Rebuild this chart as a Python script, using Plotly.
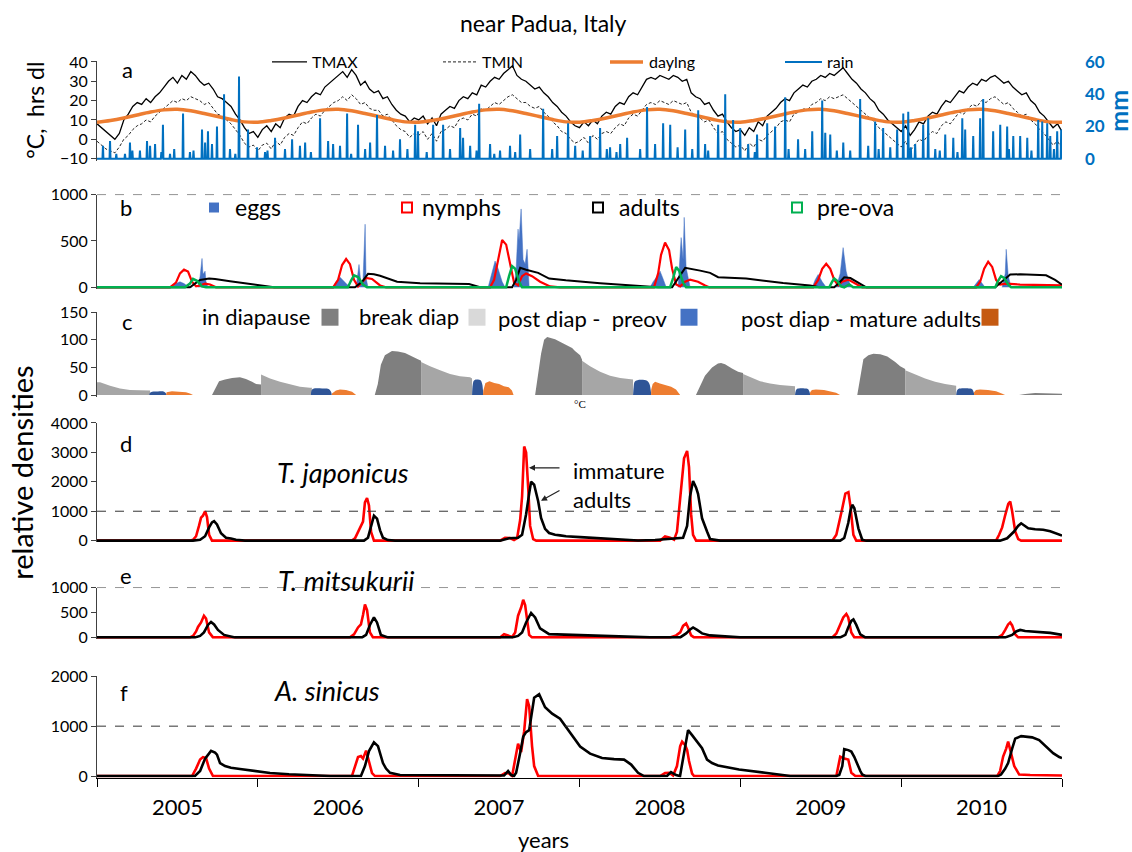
import plotly.graph_objects as go

# ---------------- DATA ----------------
year_labels = ["2005", "2006", "2007", "2008", "2009", "2010"]
year_mids = [2005.5, 2006.5, 2007.5, 2008.5, 2009.5, 2010.5]
year_bounds = [2005, 2006, 2007, 2008, 2009, 2010, 2011]

# panel a : ~10-day readings starting 1 Jan 2005
tmax = [8,6,4,2,0,3,10,13,17,19,18,21,19,22,24,27,30,32,29,33,31,35,33,30,28,29,26,22,21,19,17,13,10,6,3,4,
        1,5,7,4,8,6,11,13,12,17,20,19,22,24,23,27,29,31,33,35,32,36,33,28,30,26,24,25,21,22,18,15,13,12,9,11,
        10,12,8,11,7,13,15,17,16,20,22,21,24,23,28,27,30,32,31,34,36,38,33,31,30,28,26,27,24,22,19,17,14,12,9,7,
        6,9,7,10,8,12,14,13,17,19,18,22,24,23,27,31,32,31,33,32,31,33,32,30,31,24,22,21,18,19,15,12,13,9,6,4,
        5,2,6,4,9,7,12,14,16,19,21,20,24,26,28,27,30,31,33,32,34,33,35,37,34,31,29,26,24,21,19,15,13,10,8,6,
        4,7,2,5,9,8,12,14,13,17,20,19,22,25,24,27,29,28,31,30,32,33,31,29,30,27,25,23,24,20,18,14,12,9,6,8,4]
tmin = [-1,-3,-5,-6,-7,-4,0,2,5,7,8,10,9,12,14,16,18,20,19,21,20,22,21,20,18,19,16,13,12,10,8,5,2,-2,-4,-3,
        -6,-3,-2,-5,-1,-3,1,3,2,6,9,8,11,13,12,15,17,19,20,22,20,23,21,18,19,16,15,15,12,13,10,7,5,4,1,3,
        2,4,0,3,-1,4,5,7,6,10,11,10,13,12,16,15,17,19,18,20,22,23,21,19,19,17,16,17,14,12,9,7,4,3,0,-2,
        -1,1,-2,2,0,3,4,3,6,8,7,11,13,12,15,18,19,18,20,19,18,20,19,18,19,14,12,11,9,10,6,3,4,0,-2,-4,
        -3,-6,-2,-4,0,-1,2,4,6,9,10,9,13,14,16,15,18,19,21,20,22,21,22,23,21,19,17,15,13,11,9,6,4,2,0,-2,
        -4,-1,-6,-3,0,-1,2,4,3,7,9,8,11,14,13,16,18,17,20,19,21,22,20,18,19,16,14,12,13,10,8,5,3,0,-3,-1,-5]
# day length (h), first day of each month
daylength = [8.8,9.7,11.0,12.6,14.1,15.2,15.5,14.7,13.3,11.8,10.2,9.0,
             8.8,9.7,11.0,12.6,14.1,15.2,15.5,14.7,13.3,11.8,10.2,9.0,
             8.8,9.7,11.0,12.6,14.1,15.2,15.5,14.7,13.3,11.8,10.2,9.0,
             8.8,9.7,11.0,12.6,14.1,15.2,15.5,14.7,13.3,11.8,10.2,9.0,
             8.8,9.7,11.0,12.6,14.1,15.2,15.5,14.7,13.3,11.8,10.2,9.0,
             8.8,9.7,11.0,12.6,14.1,15.2,15.5,14.7,13.3,11.8,10.2,9.0, 8.8]
# rain events (decimal year, mm)
rain = [(2005.037,8),(2005.081,11),(2005.120,3),(2005.174,3),(2005.205,10),(2005.220,5),(2005.267,5),(2005.311,11),
        (2005.330,8),(2005.361,9),(2005.400,4),(2005.410,21),(2005.454,3),(2005.480,6),(2005.535,28),(2005.578,4),
        (2005.600,5),(2005.653,18),(2005.672,10),(2005.690,17),(2005.715,9),(2005.746,20),(2005.790,40),(2005.827,6),
        (2005.860,3),(2005.883,51),(2005.939,18),(2005.995,7),
        (2006.045,4),(2006.060,5),(2006.107,13),(2006.169,6),(2006.213,12),(2006.262,8),(2006.294,10),(2006.330,4),
        (2006.387,25),(2006.437,11),(2006.468,9),(2006.511,8),(2006.555,28),(2006.580,3),(2006.623,21),(2006.667,6),
        (2006.698,10),(2006.741,27),(2006.791,8),(2006.841,5),(2006.884,12),(2006.930,6),(2006.978,21),(2006.996,17),
        (2007.050,4),(2007.090,21),(2007.152,21),(2007.195,6),(2007.258,19),(2007.276,13),(2007.320,8),(2007.360,5),
        (2007.376,34),(2007.444,9),(2007.470,3),(2007.506,5),(2007.568,8),(2007.600,4),(2007.631,15),(2007.693,6),
        (2007.774,31),(2007.830,6),(2007.861,14),(2007.929,22),(2007.973,8),
        (2008.020,5),(2008.066,14),(2008.128,19),(2008.170,6),(2008.190,7),(2008.230,4),(2008.253,9),(2008.296,13),
        (2008.377,6),(2008.420,32),(2008.470,9),(2008.520,22),(2008.564,21),(2008.610,7),(2008.657,18),(2008.701,6),
        (2008.738,30),(2008.781,9),(2008.800,5),(2008.862,21),(2008.906,40),(2008.955,24),(2008.999,19),
        (2009.049,9),(2009.090,4),(2009.104,15),(2009.167,22),(2009.216,20),(2009.279,38),(2009.300,6),(2009.359,12),
        (2009.403,6),(2009.447,17),(2009.509,36),(2009.528,16),(2009.559,15),(2009.600,5),(2009.640,10),(2009.683,5),
        (2009.745,37),(2009.795,8),(2009.838,23),(2009.860,6),(2009.888,19),(2009.932,7),(2009.975,18),
        (2010.013,28),(2010.044,29),(2010.060,7),(2010.087,9),(2010.137,21),(2010.168,25),(2010.212,6),(2010.240,5),
        (2010.274,15),(2010.324,13),(2010.350,4),(2010.380,25),(2010.398,18),(2010.448,14),(2010.491,25),(2010.510,37),
        (2010.572,17),(2010.616,21),(2010.659,20),(2010.670,6),(2010.697,14),(2010.740,14),(2010.784,13),(2010.810,5),
        (2010.852,24),(2010.877,23),(2010.908,22),(2010.927,14),(2010.950,6),(2010.970,17),(2010.995,18)]

# panel b
eggs = [[(2005.466,0),(2005.491,40),(2005.516,60),(2005.541,40),(2005.566,10),(2005.591,0)],
        [(2005.628,0),(2005.641,120),(2005.653,311),(2005.659,140),(2005.672,174),(2005.678,60),(2005.690,0)],
        [(2006.468,0),(2006.486,60),(2006.511,109),(2006.536,70),(2006.555,30),(2006.573,0)],
        [(2006.611,0),(2006.629,246),(2006.642,30),(2006.654,80),(2006.667,680),(2006.673,100),(2006.685,0)],
        [(2007.432,0),(2007.457,150),(2007.475,283),(2007.494,200),(2007.519,60),(2007.537,0)],
        [(2007.593,0),(2007.606,200),(2007.618,627),(2007.624,500),(2007.637,845),(2007.649,300),(2007.662,250),(2007.674,410),(2007.687,0)],
        [(2008.439,0),(2008.458,60),(2008.483,120),(2008.501,174),(2008.520,90),(2008.539,0)],
        [(2008.613,0),(2008.632,536),(2008.644,300),(2008.651,754),(2008.663,210),(2008.675,100),(2008.688,0)],
        [(2009.447,0),(2009.465,80),(2009.484,138),(2009.509,60),(2009.534,0)],
        [(2009.596,0),(2009.621,150),(2009.639,428),(2009.658,174),(2009.670,90),(2009.689,0)],
        [(2010.448,0),(2010.467,50),(2010.485,83),(2010.504,40),(2010.522,0)],
        [(2010.628,0),(2010.647,150),(2010.653,410),(2010.666,120),(2010.684,0)]]
nymphs = [(2005.0,0),(2005.454,0),(2005.491,50),(2005.516,150),(2005.541,190),(2005.566,170),(2005.591,60),(2005.616,10),
          (2005.641,20),(2005.672,40),(2005.703,30),(2005.740,0),
          (2006.468,0),(2006.499,80),(2006.524,240),(2006.549,305),(2006.573,250),(2006.598,80),(2006.623,10),(2006.648,60),
          (2006.673,100),(2006.710,90),(2006.760,20),(2006.797,0),
          (2007.444,0),(2007.469,80),(2007.494,300),(2007.519,510),(2007.544,460),(2007.569,250),(2007.593,50),(2007.618,20),
          (2007.643,120),(2007.668,150),(2007.705,120),(2007.755,60),(2007.817,10),(2007.879,0),
          (2008.463,0),(2008.489,150),(2008.507,350),(2008.532,482),(2008.557,400),(2008.576,200),(2008.601,30),(2008.626,10),
          (2008.657,60),(2008.688,83),(2008.737,60),(2008.781,20),(2008.806,0),
          (2009.453,0),(2009.484,80),(2009.509,200),(2009.534,254),(2009.559,200),(2009.584,80),(2009.609,20),(2009.633,60),
          (2009.671,83),(2009.714,40),(2009.758,0),
          (2010.466,0),(2010.491,60),(2010.516,200),(2010.541,275),(2010.566,220),(2010.590,80),(2010.615,30),(2010.653,40),
          (2010.739,30),(2011.0,20)]
adults = [(2005.0,0),(2005.578,0),(2005.609,40),(2005.641,80),(2005.697,95),(2005.734,90),(2005.827,65),(2005.970,30),(2006.101,0),
          (2006.604,0),(2006.648,60),(2006.685,145),(2006.722,140),(2006.760,125),(2006.866,60),(2007.009,45),(2007.195,40),
          (2007.313,35),(2007.382,0),
          (2007.581,0),(2007.606,80),(2007.631,210),(2007.668,190),(2007.699,174),(2007.743,156),(2007.811,94),(2007.915,75),
          (2008.128,45),(2008.315,25),(2008.439,8),(2008.489,0),
          (2008.576,0),(2008.613,100),(2008.657,210),(2008.750,180),(2008.812,156),(2008.862,109),(2009.036,94),(2009.266,47),
          (2009.434,20),(2009.490,0),
          (2009.584,0),(2009.615,50),(2009.646,109),(2009.684,100),(2009.721,60),(2009.758,29),(2009.783,0),
          (2010.585,0),(2010.628,60),(2010.678,138),(2010.740,140),(2010.833,132),(2010.901,130),(2010.957,80),(2011.0,29)]
preova = [(2005.0,0),(2005.547,0),(2005.578,40),(2005.597,91),(2005.622,70),(2005.653,10),(2005.678,0),
          (2006.560,0),(2006.579,70),(2006.598,130),(2006.623,110),(2006.654,30),(2006.679,0),
          (2007.544,0),(2007.562,120),(2007.581,228),(2007.600,200),(2007.625,60),(2007.643,0),
          (2008.563,0),(2008.582,100),(2008.601,217),(2008.619,180),(2008.644,50),(2008.663,0),
          (2009.553,0),(2009.571,60),(2009.584,95),(2009.602,70),(2009.627,10),(2009.646,0),(2009.677,30),(2009.702,0),
          (2010.585,0),(2010.603,70),(2010.621,120),(2010.640,100),(2010.665,30),(2010.684,0),(2011.0,0)]

# panel c
in_diapause = [[(2005.715,0),(2005.734,12),(2005.759,25),(2005.796,28),(2005.840,31),(2005.889,32),(2005.926,29),(2005.964,24),(2005.989,20),(2006.020,19)],
               [(2006.727,0),(2006.746,20),(2006.765,55),(2006.790,72),(2006.834,80),(2006.871,79),(2006.915,76),(2006.964,70),(2006.995,65),(2007.015,62)],
               [(2007.724,0),(2007.743,40),(2007.761,75),(2007.780,100),(2007.799,105),(2007.848,101),(2007.910,92),(2007.954,85),(2007.972,80),(2008.004,72),(2008.016,64)],
               [(2008.724,0),(2008.749,15),(2008.780,35),(2008.824,50),(2008.861,57),(2008.880,58),(2008.905,56),(2008.948,48),(2008.986,42),(2009.017,40)],
               [(2009.727,0),(2009.746,30),(2009.765,65),(2009.796,72),(2009.827,75),(2009.870,74),(2009.914,70),(2009.963,60),(2009.994,52),(2010.025,47)],
               [(2010.733,0),(2010.771,2),(2010.833,3.5),(2010.926,3),(2011.0,2.5)]]
break_diap = [[(2005.0,23),(2005.019,23),(2005.081,17),(2005.143,12),(2005.205,9),(2005.267,8),(2005.330,8)],
              [(2006.020,37),(2006.076,30),(2006.138,24),(2006.200,19),(2006.262,15),(2006.324,13),(2006.336,13)],
              [(2007.015,60),(2007.071,52),(2007.133,45),(2007.195,38),(2007.257,34),(2007.320,32),(2007.332,30)],
              [(2008.016,62),(2008.066,52),(2008.128,42),(2008.190,35),(2008.253,31),(2008.333,28)],
              [(2009.017,38),(2009.061,32),(2009.123,25),(2009.185,21),(2009.247,18),(2009.340,16)],
              [(2010.025,45),(2010.087,37),(2010.149,30),(2010.211,24),(2010.273,20),(2010.342,17)]]
post_preov = [[(2005.325,0),(2005.330,4),(2005.342,6),(2005.379,6.5),(2005.417,6),(2005.429,3),(2005.433,0)],
              [(2006.330,0),(2006.334,8),(2006.345,11.5),(2006.400,12),(2006.440,11),(2006.455,6),(2006.460,0)],
              [(2007.332,0),(2007.336,18),(2007.343,26),(2007.360,28),(2007.385,27),(2007.395,20),(2007.400,8),(2007.402,0)],
              [(2008.333,0),(2008.337,15),(2008.343,24),(2008.360,27),(2008.420,26),(2008.435,20),(2008.443,8),(2008.446,0)],
              [(2009.340,0),(2009.344,7),(2009.352,11),(2009.400,12),(2009.420,11),(2009.430,6),(2009.434,0)],
              [(2010.342,0),(2010.346,7),(2010.355,11),(2010.420,12),(2010.440,11),(2010.450,6),(2010.454,0)]]
post_mature = [[(2005.429,0),(2005.433,5),(2005.466,7),(2005.516,6),(2005.553,5),(2005.578,3),(2005.597,0)],
               [(2006.460,0),(2006.461,3),(2006.486,8),(2006.511,10),(2006.548,9),(2006.586,6),(2006.611,0)],
               [(2007.400,0),(2007.402,8),(2007.415,22),(2007.440,25),(2007.470,22),(2007.500,20),(2007.530,16),(2007.560,14),(2007.580,8),(2007.590,0)],
               [(2008.445,0),(2008.446,10),(2008.455,20),(2008.470,24),(2008.500,21),(2008.540,18),(2008.570,15),(2008.600,10),(2008.620,3),(2008.626,0)],
               [(2009.433,0),(2009.434,5),(2009.445,9),(2009.470,10),(2009.520,9),(2009.560,7),(2009.595,4),(2009.620,0)],
               [(2010.453,0),(2010.454,5),(2010.465,9),(2010.490,10),(2010.540,9),(2010.590,7),(2010.625,3),(2010.646,0)]]

# panel d  T. japonicus
jap_immature = [(2005.0,0),(2005.578,0),(2005.597,30),(2005.616,150),(2005.634,500),(2005.647,780),(2005.659,850),(2005.672,1000),(2005.684,800),(2005.697,200),(2005.715,0),
                (2006.585,0),(2006.604,80),(2006.623,300),(2006.641,520),(2006.654,650),(2006.666,1300),(2006.679,1450),(2006.691,1200),(2006.704,300),(2006.722,0),
                (2007.506,0),(2007.537,100),(2007.568,90),(2007.593,20),(2007.612,80),(2007.631,700),(2007.643,1500),(2007.656,3200),(2007.668,3000),(2007.681,1800),(2007.693,500),(2007.712,50),(2007.731,0),
                (2008.501,0),(2008.532,140),(2008.563,100),(2008.588,30),(2008.606,300),(2008.619,1000),(2008.638,2000),(2008.650,2800),(2008.669,3050),(2008.681,2500),(2008.694,900),(2008.706,200),(2008.725,0),
                (2009.572,0),(2009.597,200),(2009.615,600),(2009.634,1100),(2009.653,1600),(2009.672,1650),(2009.684,1200),(2009.703,200),(2009.721,0),
                (2010.590,0),(2010.609,200),(2010.628,450),(2010.647,870),(2010.666,1250),(2010.678,1330),(2010.690,1000),(2010.709,310),(2010.728,50),(2010.746,0),(2011.0,0)]
jap_adults = [(2005.0,0),(2005.597,0),(2005.641,30),(2005.672,150),(2005.697,450),(2005.715,620),(2005.728,660),(2005.746,550),(2005.771,250),(2005.802,100),(2005.833,70),(2005.864,30),(2005.920,0),
              (2006.660,0),(2006.685,100),(2006.704,500),(2006.722,850),(2006.741,750),(2006.760,350),(2006.778,100),(2006.809,20),(2006.853,0),
              (2007.506,0),(2007.562,80),(2007.618,100),(2007.643,200),(2007.668,900),(2007.687,1600),(2007.699,2000),(2007.718,1900),(2007.743,1340),(2007.761,770),(2007.786,400),(2007.811,260),(2007.848,200),(2007.879,180),(2007.916,150),
              (2008.004,120),(2008.128,80),(2008.253,40),(2008.364,5),(2008.470,20),(2008.532,50),(2008.588,90),(2008.644,100),(2008.669,500),(2008.687,1500),(2008.706,2030),(2008.725,1800),(2008.737,1590),(2008.762,760),(2008.793,310),(2008.812,55),(2008.874,0),
              (2009.621,0),(2009.646,90),(2009.671,600),(2009.684,1000),(2009.696,1220),(2009.709,1100),(2009.734,420),(2009.758,30),(2009.783,0),
              (2010.615,0),(2010.659,80),(2010.702,310),(2010.727,500),(2010.746,590),(2010.765,520),(2010.790,420),(2010.833,390),(2010.883,370),(2010.927,320),(2010.964,250),(2011.0,170)]
# panel e  T. mitsukurii
mit_immature = [(2005.0,0),(2005.578,0),(2005.597,30),(2005.616,120),(2005.628,210),(2005.647,300),(2005.665,435),(2005.678,380),(2005.697,100),(2005.721,0),
                (2006.573,0),(2006.598,60),(2006.623,200),(2006.641,260),(2006.654,450),(2006.666,660),(2006.679,550),(2006.697,100),(2006.716,0),
                (2007.506,0),(2007.531,65),(2007.556,40),(2007.581,10),(2007.600,100),(2007.618,435),(2007.637,600),(2007.650,755),(2007.662,650),(2007.674,300),(2007.687,50),(2007.705,0),
                (2008.563,0),(2008.601,40),(2008.626,100),(2008.644,230),(2008.663,280),(2008.675,200),(2008.694,40),(2008.712,0),
                (2009.572,0),(2009.597,80),(2009.621,250),(2009.640,400),(2009.659,470),(2009.671,400),(2009.690,100),(2009.709,0),
                (2010.603,0),(2010.628,50),(2010.647,150),(2010.665,260),(2010.678,300),(2010.690,240),(2010.709,60),(2010.728,0),(2011.0,0)]
mit_adults = [(2005.0,0),(2005.609,0),(2005.641,30),(2005.665,100),(2005.690,250),(2005.709,310),(2005.728,260),(2005.752,150),(2005.790,50),(2005.858,0),
              (2006.648,0),(2006.673,50),(2006.697,250),(2006.722,400),(2006.741,300),(2006.765,50),(2006.809,0),
              (2007.581,0),(2007.618,30),(2007.643,100),(2007.668,300),(2007.699,490),(2007.724,400),(2007.755,180),(2007.811,65),(2007.942,50),(2008.128,30),(2008.315,15),(2008.439,0),
              (2008.626,0),(2008.663,80),(2008.688,160),(2008.706,200),(2008.731,150),(2008.762,80),(2008.812,40),(2008.905,20),(2008.998,0),
              (2009.621,0),(2009.653,50),(2009.671,200),(2009.690,330),(2009.703,360),(2009.721,250),(2009.746,60),(2009.777,0),
              (2010.647,0),(2010.690,50),(2010.715,120),(2010.740,150),(2010.771,130),(2010.833,120),(2010.927,90),(2011.0,50)]
# panel f  A. sinicus
sin_immature = [(2005.0,0),(2005.591,0),(2005.616,150),(2005.641,330),(2005.659,380),(2005.678,360),(2005.697,150),(2005.721,0),
                (2006.585,0),(2006.604,200),(2006.623,380),(2006.641,400),(2006.654,350),(2006.673,510),(2006.691,300),(2006.710,60),(2006.728,0),
                (2007.506,0),(2007.537,60),(2007.562,50),(2007.581,0),(2007.600,300),(2007.618,650),(2007.637,480),(2007.656,900),(2007.674,1540),(2007.687,1400),(2007.705,600),(2007.718,200),(2007.743,0),
                (2008.501,0),(2008.532,60),(2008.557,65),(2008.582,10),(2008.606,200),(2008.626,600),(2008.638,690),(2008.657,620),(2008.669,525),(2008.681,300),(2008.700,50),(2008.712,0),
                (2009.597,0),(2009.621,390),(2009.646,350),(2009.671,330),(2009.690,65),(2009.715,0),
                (2010.597,0),(2010.615,100),(2010.634,390),(2010.653,550),(2010.665,690),(2010.684,450),(2010.703,200),(2010.734,30),(2010.802,20),(2011.0,10)]
sin_adults = [(2005.0,0),(2005.609,0),(2005.641,100),(2005.672,350),(2005.709,505),(2005.734,470),(2005.746,430),(2005.765,260),(2005.796,200),(2005.833,165),(2005.889,140),(2005.970,100),(2006.076,60),(2006.194,35),(2006.349,5),(2006.449,0),
              (2006.641,0),(2006.666,200),(2006.691,500),(2006.722,675),(2006.747,600),(2006.778,260),(2006.797,150),(2006.822,65),(2006.884,20),(2007.195,12),(2007.493,5),
              (2007.531,10),(2007.556,100),(2007.575,20),(2007.593,0),(2007.606,65),(2007.631,460),(2007.650,790),(2007.668,880),(2007.687,920),(2007.718,1570),(2007.749,1640),(2007.786,1380),(2007.830,1250),(2007.879,1150),(2007.916,985),(2007.953,800),
              (2008.004,590),(2008.066,450),(2008.140,360),(2008.215,340),(2008.277,330),(2008.321,230),(2008.364,65),(2008.401,0),(2008.544,0),(2008.569,80),(2008.600,20),(2008.625,0),(2008.638,260),(2008.675,920),(2008.700,820),(2008.725,720),(2008.762,560),(2008.793,330),(2008.824,260),(2008.861,210),(2008.992,130),
              (2009.154,65),(2009.266,15),(2009.310,0),
              (2009.597,0),(2009.615,20),(2009.634,200),(2009.646,540),(2009.671,520),(2009.690,490),(2009.709,380),(2009.727,230),(2009.746,100),(2009.758,30),(2009.777,0),
              (2010.603,0),(2010.621,30),(2010.647,150),(2010.665,260),(2010.690,550),(2010.709,750),(2010.746,800),(2010.777,795),(2010.814,775),(2010.858,720),(2010.902,590),(2010.945,460),(2010.983,380),(2011.0,360)]

# ---------------- LAYOUT HELPERS ----------------
W, H = 1132, 852
X0, X1, Y0, Y1 = 97, 1062, 20, 792          # plot area in page pixels
ML, MR, MT, MB = X0, W - X1, Y0, H - Y1
PW, PH = X1 - X0, Y1 - Y0
FONT = "Lato, 'Open Sans', sans-serif"

def px(x):
    return (x - X0) / PW

def py(y):
    return (Y1 - y) / PH

def dom(v_hi, y_hi, v_lo, y_lo, r0, r1):
    s = (y_lo - y_hi) / (v_hi - v_lo)
    top = y_hi - (r1 - v_hi) * s
    bot = y_lo + (v_lo - r0) * s
    return [max(0, py(bot)), min(1, py(top))]

def xy(pairs):
    return [p[0] for p in pairs], [p[1] for p in pairs]

fig = go.Figure()

# ---- panel a ----
t10 = [2005 + i / 36 for i in range(len(tmax))]
tmon = [2005 + i / 12 for i in range(len(daylength))]
fig.add_trace(go.Scatter(x=t10, y=tmax, mode="lines", line=dict(color="black", width=1.3), xaxis="x", yaxis="y"))
fig.add_trace(go.Scatter(x=t10, y=tmin, mode="lines", line=dict(color="#222", width=1, dash="3px,2px"), xaxis="x", yaxis="y"))
fig.add_trace(go.Scatter(x=tmon, y=daylength, mode="lines", line=dict(color="#ED7D31", width=3.5, shape="spline"), xaxis="x", yaxis="y"))
rx, ry = [2005.0], [0]
for t, v in sorted(rain):
    rx += [t - 0.003, t, t + 0.003]
    ry += [0, v, 0]
rx.append(2011.0); ry.append(0)
fig.add_trace(go.Scatter(x=rx, y=ry, mode="lines", line=dict(color="#0070C0", width=2), xaxis="x", yaxis="y7"))

# ---- panel b ----
for seg in eggs:
    sx, sy = xy(seg)
    fig.add_trace(go.Scatter(x=sx, y=sy, mode="lines", fill="tozeroy", fillcolor="#4472C4",
                             line=dict(color="#4472C4", width=0.5), xaxis="x2", yaxis="y2"))
for data, col, wd in [(nymphs, "#FF0000", 2.2), (adults, "black", 2), (preova, "#00B050", 2.5)]:
    sx, sy = xy(data)
    fig.add_trace(go.Scatter(x=sx, y=sy, mode="lines", line=dict(color=col, width=wd), xaxis="x2", yaxis="y2"))

# ---- panel c ----
for segs, col, shp in [(in_diapause, "#7F7F7F", "linear"), (break_diap, "#A6A6A6", "linear"),
                       (post_preov, "#2F5597", "spline"), (post_mature, "#ED7D31", "linear")]:
    for seg in segs:
        sx, sy = xy(seg)
        fig.add_trace(go.Scatter(x=sx, y=sy, mode="lines", fill="tozeroy", fillcolor=col,
                                 line=dict(color=col, width=0, shape=shp), xaxis="x3", yaxis="y3"))

# ---- panels d, e, f ----
for imm, ad, ax in [(jap_immature, jap_adults, "4"), (mit_immature, mit_adults, "5"), (sin_immature, sin_adults, "6")]:
    sx, sy = xy(imm)
    fig.add_trace(go.Scatter(x=sx, y=sy, mode="lines", line=dict(color="#FF0000", width=2.6), xaxis="x" + ax, yaxis="y" + ax))
    sx, sy = xy(ad)
    fig.add_trace(go.Scatter(x=sx, y=sy, mode="lines", line=dict(color="black", width=2.6), xaxis="x" + ax, yaxis="y" + ax))

# ---- axes ----
yax = dict(showline=True, linecolor="#404040", linewidth=1, ticks="outside", ticklen=5, tickcolor="#404040",
           showgrid=False, zeroline=False, tickfont=dict(size=16, color="#000", family=FONT))
xhidden = dict(range=[2005, 2011], visible=False, showgrid=False, zeroline=False)

ranges = {
    "a": (40, 60, -10, 157, -11, 40.5),
    "b": (1000, 193, 0, 286, -20, 1000),
    "c": (150, 311, 0, 394, -3, 150),
    "d": (4000, 422, 0, 540, -60, 4000),
    "e": (1000, 587, 0, 637, -25, 1000),
    "f": (2000, 676, 0, 776, -30, 2000),
}
ticks = {
    "a": [-10, 0, 10, 20, 30, 40], "b": [0, 500, 1000], "c": [0, 50, 100, 150],
    "d": [0, 1000, 2000, 3000, 4000], "e": [0, 500, 1000], "f": [0, 1000, 2000],
}
layout = dict(width=W, height=H, margin=dict(l=ML, r=MR, t=MT, b=MB), autosize=False,
              paper_bgcolor="white", plot_bgcolor="white", showlegend=False,
              font=dict(family=FONT, color="#000"))
for i, k in enumerate("abcdef"):
    n = "" if i == 0 else str(i + 1)
    v_hi, y_hi, v_lo, y_lo, r0, r1 = ranges[k]
    d = dom(v_hi, y_hi, v_lo, y_lo, r0, r1)
    layout["yaxis" + n] = dict(yax, domain=d, range=[r0, r1], tickvals=ticks[k], anchor="x" + n)
    layout["xaxis" + n] = dict(xhidden, anchor="y" + n)

layout["xaxis6"] = dict(range=[2005, 2011], anchor="y6", showgrid=False, zeroline=False,
                        showline=True, linecolor="black", linewidth=1,
                        tickmode="array", tickvals=year_mids, ticktext=year_labels, ticks="",
                        tickfont=dict(size=22, color="#000", family=FONT), ticklabelstandoff=10,
                        minor=dict(tickmode="array", tickvals=year_bounds, ticks="outside",
                                   ticklen=8, tickcolor="black", tickwidth=1, showgrid=False))
layout["yaxis7"] = dict(overlaying="y", side="right", anchor="x", range=[-1.2, 60.6], tickvals=[0, 20, 40, 60],
                        showgrid=False, zeroline=False, showline=False, ticks="", ticklabelstandoff=22,
                        tickfont=dict(size=17, color="#0070C0", family=FONT, weight="bold"))
fig.update_layout(**layout)

# ---- reference lines ----
shapes = []
for yref in ["y2", "y4", "y5", "y6"]:
    shapes.append(dict(type="line", xref="paper", x0=0, x1=1, yref=yref, y0=1000, y1=1000,
                       line=dict(color="#333", width=1, dash="dash")))

# ---- legends ----
def lseg(x0, x1, y, color, width, dash="solid"):
    shapes.append(dict(type="line", xref="paper", yref="paper", x0=px(x0), x1=px(x1), y0=py(y), y1=py(y),
                       line=dict(color=color, width=width, dash=dash)))

def sq(cx, cy, s, fill, line=None, lw=0):
    shapes.append(dict(type="rect", xref="paper", yref="paper", x0=px(cx - s / 2), x1=px(cx + s / 2),
                       y0=py(cy + s / 2), y1=py(cy - s / 2), fillcolor=fill,
                       line=dict(color=line if line else fill, width=lw)))

anns = []
def txt(x, y, text, size, anchor="left", color="#000", **kw):
    d = dict(xref="paper", yref="paper", x=px(x), y=py(y), text=text, showarrow=False,
             xanchor=anchor, yanchor="middle", font=dict(size=size, color=color, family=kw.pop("family", FONT)))
    d.update(kw)
    anns.append(d)

lseg(272, 307, 60, "black", 1.3); txt(310, 60, "TMAX", 16)
lseg(443, 477, 60, "#222", 1, "3px,2px"); txt(480, 60, "TMIN", 16)
lseg(610, 643, 60, "#ED7D31", 3.5); txt(647, 60, "daylng", 16)
lseg(785, 822, 60, "#0070C0", 2); txt(825, 60, "rain", 16)

sq(214, 206, 10, "#4472C4"); txt(233, 205, "eggs", 23)
sq(407, 206, 10, "rgba(0,0,0,0)", "#FF0000", 2); txt(420, 205, "nymphs", 23)
sq(598, 206, 10, "rgba(0,0,0,0)", "black", 2); txt(617, 205, "adults", 23)
sq(797, 206, 10, "rgba(0,0,0,0)", "#00B050", 2); txt(815, 205, "pre-ova", 23)

txt(200, 315, "in diapause", 22); sq(330, 316, 17, "#7F7F7F")
txt(357, 315, "break diap", 22); sq(477, 316, 17, "#D9D9D9")
txt(496, 317, "post diap -  preov", 22); sq(689, 316, 17, "#4472C4")
txt(739, 317, "post diap - mature adults", 22); sq(990, 316, 17, "#C55A11")

# ---- texts ----
txt(543, 21, "near Padua, Italy", 23, anchor="center")
txt(120, 68, "a", 22); txt(118, 206, "b", 22); txt(120, 320, "c", 22)
txt(118, 443, "d", 22); txt(118, 575, "e", 22); txt(118, 692, "f", 22)
txt(343, 472, "<i>T. japonicus</i>", 27, anchor="center")
txt(346, 580, "<i>T. mitsukurii</i>", 27, anchor="center")
txt(327, 690, "<i>A. sinicus</i>", 27, anchor="center")
txt(571, 484, "immature<br>adults", 22, align="left")
txt(580, 403, "°C", 11, anchor="center", family="Liberation Serif")
txt(543, 840, "years", 22, anchor="center")
txt(35, 109, "°C,  hrs dl", 23, anchor="center", textangle=-90)
txt(1118, 109, "<b>mm</b>", 25, anchor="center", color="#0070C0", textangle=-90)
txt(22, 472, "relative densities", 29, anchor="center", textangle=-90)

# arrows
anns.append(dict(xref="paper", yref="paper", x=px(529), y=py(467), ax=32, ay=0, text="", showarrow=True,
                 arrowhead=2, arrowsize=1, arrowwidth=1.2, arrowcolor="#222"))
anns.append(dict(xref="paper", yref="paper", x=px(541), y=py(500), ax=20, ay=-11, text="", showarrow=True,
                 arrowhead=2, arrowsize=1, arrowwidth=1.2, arrowcolor="#222"))

fig.update_layout(shapes=shapes, annotations=anns)
# draw the figure flush with the page corner (no default body margin), no toolbar
fig.write_html("out.html", config={"displayModeBar": False},
               post_script="document.body.style.margin='0';")
